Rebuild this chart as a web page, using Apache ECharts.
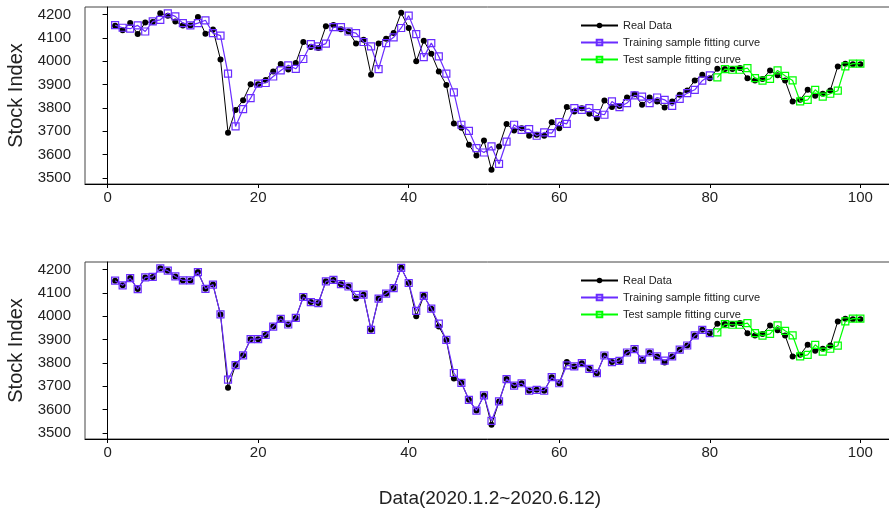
<!DOCTYPE html>
<html>
<head>
<meta charset="utf-8">
<script src="https://cdn.jsdelivr.net/npm/echarts@6/dist/echarts.min.js"></script>
<style>html,body{margin:0;padding:0;background:#fff}#c{width:889px;height:511px}</style>
</head>
<body>
<div id="c"></div>
<script>
var xTicks = [0, 20, 40, 60, 80, 100];
var yTicks = [3500, 3600, 3700, 3800, 3900, 4000, 4100, 4200];

var realData = [4153,4133,4164,4117,4167,4169,4206,4196,4171,4154,
  4154,4190,4118,4136,4008,3694,3791,3833,3902,3902,
  3920,3956,3989,3965,3993,4083,4061,4057,4150,4156,
  4138,4128,4077,4093,3942,4076,4097,4121,4208,4143,
  4000,4088,4033,3956,3899,3733,3715,3642,3596,3661,
  3535,3635,3731,3703,3713,3681,3685,3681,3739,3713,
  3804,3785,3799,3775,3756,3832,3804,3809,3845,3859,
  3814,3845,3828,3802,3828,3857,3875,3918,3942,3928,
  3968,3967,3967,3971,3928,3918,3924,3961,3940,3918,
  3828,3835,3878,3852,3861,3875,3978,3990,3988,3988];

var trainTop = [4155,4144,4140,4154,4128,4171,4178,4206,4193,4164,
  4154,4164,4176,4121,4110,3947,3721,3795,3842,3904,
  3907,3935,3961,3983,3968,4010,4074,4064,4076,4147,
  4147,4128,4121,4083,4064,3967,4078,4103,4143,4196,
  4117,4018,4078,4021,3947,3867,3728,3702,3628,3609,
  3635,3560,3656,3728,3706,3709,3681,3695,3692,3739,
  3732,3799,3792,3799,3778,3771,3828,3804,3821,3854,
  3849,3821,3845,3835,3809,3839,3864,3878,3917,3940];

var trainBottom = [4153,4133,4164,4117,4167,4169,4206,4196,4171,4154,
  4154,4190,4118,4136,4008,3729,3791,3833,3902,3902,
  3920,3956,3989,3965,3993,4083,4061,4057,4150,4156,
  4138,4128,4092,4093,3942,4076,4097,4121,4208,4143,
  4023,4088,4033,3969,3899,3757,3715,3642,3596,3661,
  3552,3635,3731,3703,3713,3681,3685,3681,3739,3713,
  3790,3785,3799,3775,3756,3832,3804,3809,3845,3859,
  3814,3845,3828,3810,3828,3857,3875,3918,3942,3928];

var testFit = [3931,3967,3964,3964,3971,3928,3917,3925,3961,3938,
  3918,3828,3835,3878,3849,3861,3874,3978,3990,3990];

var trainStart = 1, testStart = 81;

function pairs(arr, start) {
  return arr.map(function (v, i) { return [start + i, v]; });
}

var FONT = "'Liberation Sans', Arial, sans-serif";
var PURPLE = '#6a2cff', GREEN = '#00ff00', BLACK = '#000';
var names = ['Real Data', 'Training sample fitting curve', 'Test sample fitting curve'];

function xAxisCfg(idx, withName) {
  var c = {
    type: 'value', gridIndex: idx, min: -3, max: 104.6,
    axisLine: {show: true, lineStyle: {color: '#000', width: 1}},
    axisTick: {show: true, length: 4, customValues: xTicks, lineStyle: {color: '#000'}},
    axisLabel: {customValues: xTicks, fontSize: 15, color: '#222', fontFamily: FONT, margin: 6,
      formatter: function (v) { return String(v); }},
    splitLine: {show: false}
  };
  if (withName) {
    c.name = 'Data(2020.1.2~2020.6.12)';
    c.nameLocation = 'middle';
    c.nameGap = 60;
    c.nameTextStyle = {fontSize: 19, color: '#222', fontFamily: FONT, verticalAlign: 'middle'};
  }
  return c;
}
function yAxisCfg(idx) {
  return {
    type: 'value', gridIndex: idx, min: 3474, max: 4233,
    name: 'Stock Index', nameLocation: 'middle', nameGap: 69, nameRotate: 90,
    nameTextStyle: {fontSize: 20, color: '#222', fontFamily: FONT, verticalAlign: 'middle'},
    axisLine: {show: true, lineStyle: {color: '#000', width: 1}},
    axisTick: {show: true, length: 5, customValues: yTicks, lineStyle: {color: '#000'}},
    axisLabel: {customValues: yTicks, fontSize: 15, color: '#222', fontFamily: FONT, margin: 14,
      formatter: function (v) { return String(v); }},
    splitLine: {show: false}
  };
}
function legendCfg(top) {
  return {
    data: names, orient: 'vertical', left: 575, top: top,
    itemWidth: 37, itemHeight: 7, itemGap: 6,
    textStyle: {fontSize: 11, color: '#222', fontFamily: FONT},
    selectedMode: false
  };
}
function realSeries(idx) {
  return {name: names[0], type: 'line', xAxisIndex: idx, yAxisIndex: idx,
    data: pairs(realData, 1), symbol: 'circle', symbolSize: 6, animation: false,
    lineStyle: {color: BLACK, width: 1}, itemStyle: {color: BLACK}, z: 2};
}
function fitSeries(idx, name, arr, start, color) {
  return {name: name, type: 'line', xAxisIndex: idx, yAxisIndex: idx,
    data: pairs(arr, start), symbol: 'rect', symbolSize: 7, animation: false,
    lineStyle: {color: color, width: 1.2},
    itemStyle: {color: 'rgba(255,255,255,0)', borderColor: color, borderWidth: 1.2}, z: 3};
}

var chart = echarts.init(document.getElementById('c'), null, {renderer: 'canvas'});
chart.setOption({
  backgroundColor: '#fff',
  animation: false,
  grid: [
    {left: 85, top: 7, width: 810, height: 177, show: true, borderColor: '#444', borderWidth: 1,
      containLabel: false, outerBoundsMode: 'none'},
    {left: 85, top: 262, width: 810, height: 177, show: true, borderColor: '#444', borderWidth: 1,
      containLabel: false, outerBoundsMode: 'none'}
  ],
  legend: [legendCfg(15), legendCfg(270)],
  xAxis: [xAxisCfg(0, false), xAxisCfg(1, true)],
  yAxis: [yAxisCfg(0), yAxisCfg(1)],
  series: [
    realSeries(0),
    fitSeries(0, names[1], trainTop, trainStart, PURPLE),
    fitSeries(0, names[2], testFit, testStart, GREEN),
    realSeries(1),
    fitSeries(1, names[1], trainBottom, trainStart, PURPLE),
    fitSeries(1, names[2], testFit, testStart, GREEN)
  ]
});
</script>
</body>
</html>
